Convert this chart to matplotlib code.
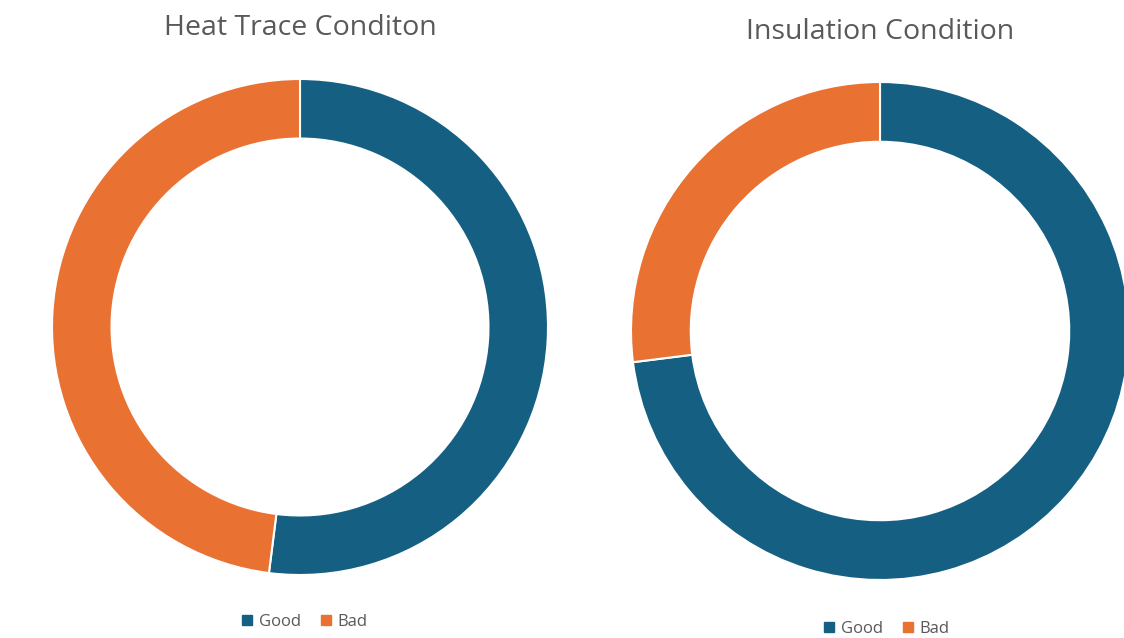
import matplotlib.pyplot as plt
from matplotlib.patches import Patch

# data
labels = ['Good', 'Bad']
heat_trace = [52, 48]
insulation = [73, 27]
colors = ['#156082', '#E97132']

plt.rcParams['font.family'] = ['Open Sans', 'DejaVu Sans']

W, H = 1124, 638
fig = plt.figure(figsize=(W / 100, H / 100), dpi=100)


def donut(cx, cy, r, values, title, title_y, legend_x, legend_y):
    ax = fig.add_axes([(cx - r) / W, (H - cy - r) / H, 2 * r / W, 2 * r / H])
    ax.pie(values, colors=colors, startangle=90, counterclock=False,
           radius=1, wedgeprops=dict(width=0.24, edgecolor='white', linewidth=1.5))
    ax.set_xlim(-1, 1)
    ax.set_ylim(-1, 1)
    ax.set_aspect('equal')
    ax.axis('off')
    fig.text(cx / W, 1 - title_y / H, title, ha='center', va='center',
             fontsize=20.5, color='#595959')
    handles = [Patch(color=c, label=l) for c, l in zip(colors, labels)]
    fig.legend(handles=handles, loc='center', ncol=2, frameon=False,
               bbox_to_anchor=(legend_x / W, 1 - legend_y / H),
               handlelength=0.6, handleheight=0.6, handletextpad=0.4,
               columnspacing=1.2, fontsize=12, labelcolor='#595959')


donut(300, 327, 248, heat_trace, 'Heat Trace Conditon', 28, 305, 622)
donut(880, 331, 249, insulation, 'Insulation Condition', 32, 887, 629)

fig.savefig('out.png', dpi=100, facecolor='white')
